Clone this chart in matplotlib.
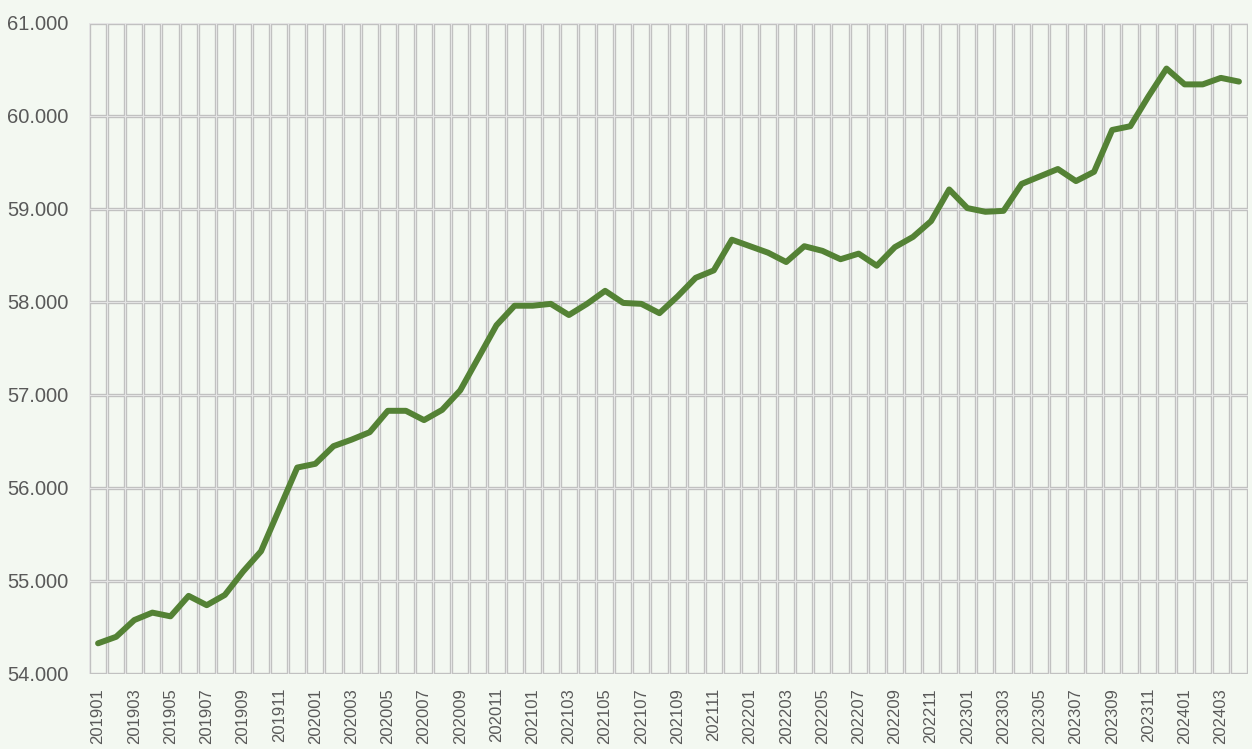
import matplotlib
matplotlib.use("Agg")
import matplotlib.pyplot as plt
import numpy as np

months = [f"{y}{m:02d}" for y in range(2019, 2025) for m in range(1, 13)][:64]
values = [
    54.33, 54.40, 54.58, 54.66, 54.62, 54.84, 54.74, 54.85, 55.10, 55.32, 55.77, 56.22,
    56.26, 56.45, 56.52, 56.60, 56.83, 56.83, 56.73, 56.84, 57.05, 57.40, 57.75, 57.96,
    57.96, 57.98, 57.86, 57.98, 58.12, 57.99, 57.98, 57.88, 58.06, 58.26, 58.34, 58.67,
    58.60, 58.53, 58.43, 58.60, 58.55, 58.46, 58.52, 58.39, 58.59, 58.70, 58.87, 59.21,
    59.01, 58.97, 58.98, 59.27, 59.35, 59.43, 59.30, 59.40, 59.85, 59.89, 60.21, 60.51,
    60.34, 60.34, 60.41, 60.37,
]
y_ticks = [54, 55, 56, 57, 58, 59, 60, 61]

bg = "#f3f8f1"
line_color = "#548235"
text_color = "#595959"
font = ["Liberation Sans", "DejaVu Sans"]

fig = plt.figure(figsize=(12.52, 7.49), dpi=100, facecolor=bg)
ax = fig.add_axes([89/1252, 1 - 674/749, (1248-89)/1252, (674-23)/749])
ax.set_facecolor(bg)

n = len(values)
x = np.arange(n)
ax.set_xlim(-0.5, n - 0.5)
ax.set_ylim(54, 61)

# double-style gridlines (gray with light center)
for b in np.arange(-0.5, n, 1.0):
    ax.axvline(b, color="#bfbfbf", lw=2.4, zorder=1)
    ax.axvline(b, color="#e4e4e4", lw=0.8, zorder=1.1)
for t in y_ticks:
    ax.axhline(t, color="#bfbfbf", lw=2.4, zorder=1)
    ax.axhline(t, color="#e4e4e4", lw=0.8, zorder=1.1)

ax.plot(x, values, color=line_color, lw=4.3, solid_joinstyle="round",
        solid_capstyle="round", zorder=3)

for s in ax.spines.values():
    s.set_visible(False)

ax.set_yticks(y_ticks)
ax.set_yticklabels([f"{t:.3f}" for t in y_ticks], fontfamily=font, fontsize=14.5,
                   color=text_color)
ax.set_xticks(x[::2])
ax.set_xticklabels(months[::2], rotation=90, fontfamily=font, fontsize=12,
                   color=text_color)
ax.tick_params(axis="both", length=0)
ax.tick_params(axis="y", pad=15)
ax.tick_params(axis="x", pad=10)

fig.savefig("out.png", dpi=100, facecolor=bg)
